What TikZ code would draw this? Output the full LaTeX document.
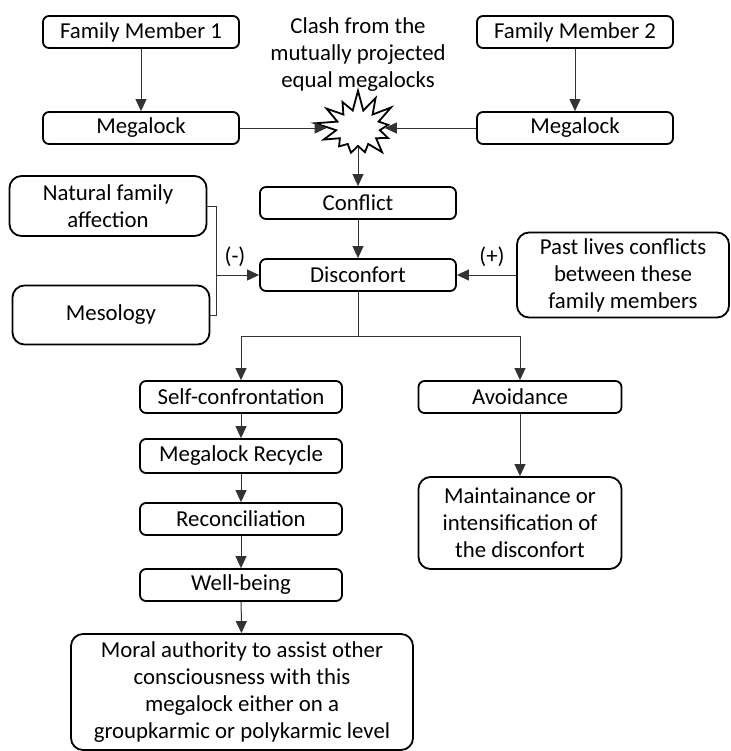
\documentclass[tikz,border=0pt]{standalone}
\usepackage{fontspec}
\setmainfont{Carlito}
\usetikzlibrary{arrows.meta,shapes.symbols}

\begin{document}
\begin{tikzpicture}[x=0.5pt, y=-0.5pt,
    font=\fontsize{11.4}{13.5}\selectfont,
    box/.style={rectangle, draw, line width=0.9pt, rounded corners=3pt, minimum width=98pt, minimum height=16pt, inner sep=0pt, align=center},
    bigbox/.style={box, rounded corners=6pt},
    burst/.style={starburst, draw, line width=0.9pt, fill=white, minimum width=44pt, minimum height=40pt, starburst point height=11pt, starburst points=13, random starburst=17, inner sep=0pt},
    line/.style={draw=black!80, line width=0.5pt},
    arrow/.style={line, -{Triangle[length=6pt, width=5.5pt]}}
]
    \useasboundingbox (0,0) rectangle (730,751);

    \node[box] (fm1) at (141,32) {Family Member 1};
    \node[box] (fm2) at (575,32) {Family Member 2};
    \node[box] (mega1) at (141,128) {Megalock};
    \node[box] (mega2) at (575,128) {Megalock};
    \node[align=center] (clashtxt) at (358,55) {Clash from the\\mutually projected\\equal megalocks};
    \node[burst] (clash) at (358,128) {};
    \node[box] (conflict) at (358,203) {Conflict};
    \node[box] (disc) at (358,275) {Disconfort};
    \node[bigbox, minimum width=98.5pt, minimum height=30pt] (nature) at (108,206) {Natural family\\affection};
    \node[bigbox, minimum width=98.5pt, minimum height=29.5pt] (meso) at (111,315) {Mesology};
    \node[bigbox, minimum width=106pt, minimum height=42.5pt] (past) at (623,275) {Past lives conflicts\\between these\\family members};
    \node[box, minimum width=101pt] (self) at (241,397) {Self-confrontation};
    \node[box, minimum width=101.5pt] (avoid) at (520,397) {Avoidance};
    \node[box, minimum width=101pt, minimum height=17pt] (recycle) at (241,456) {Megalock Recycle};
    \node[box, minimum width=101pt] (recon) at (241,519) {Reconciliation};
    \node[box, minimum width=101pt] (well) at (241,585) {Well-being};
    \node[bigbox, minimum width=101.5pt, minimum height=46pt] (keep) at (520,523) {Maintainance or\\intensification of\\the disconfort};
    \node[bigbox, minimum width=171pt, minimum height=58pt] (moral) at (242,692) {Moral authority to assist other\\consciousness with this\\megalock either on a\\groupkarmic or polykarmic level};

    \coordinate (join) at (216,275);
    \coordinate (split) at (358,336);
    \node (minus) at (235,257) {(-)};
    \node (plus) at (492,257) {(+)};

    \draw[arrow] (fm1) -- (mega1);
    \draw[arrow] (fm2) -- (mega2);
    \draw[arrow] (mega1) -- (clash);
    \draw[arrow] (mega2) -- (clash);
    \draw[arrow] (clash) -- (conflict);
    \draw[arrow] (conflict) -- (disc);
    \draw[line] (nature.east) -| (join);
    \draw[line] (meso.east) -| (join);
    \draw[arrow] (join) -- (disc.west);
    \draw[arrow] (past.west) -- (disc.east);
    \draw[line] (disc.south) -- (split);
    \draw[arrow] (split) -| (self.north);
    \draw[arrow] (split) -| (avoid.north);
    \draw[arrow] (self) -- (recycle);
    \draw[arrow] (recycle) -- (recon);
    \draw[arrow] (recon) -- (well);
    \draw[arrow] (well) -- (moral);
    \draw[arrow] (avoid) -- (keep);
\end{tikzpicture}
\end{document}
